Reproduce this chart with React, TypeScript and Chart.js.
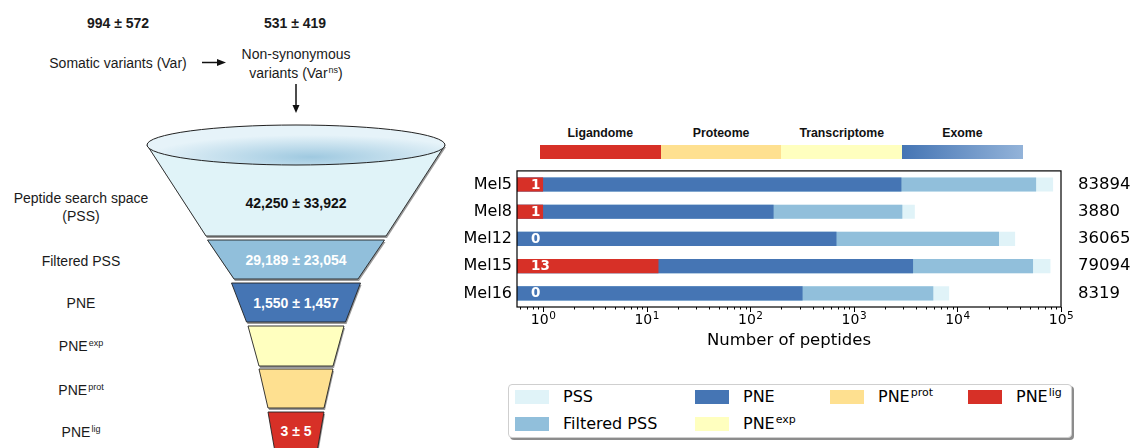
import React, { useEffect, useRef } from 'react';
import { Chart, registerables } from 'chart.js';

Chart.register(...registerables);

// ---------------- data ----------------
const samples = ['Mel5', 'Mel8', 'Mel12', 'Mel15', 'Mel16'];
const pssCounts = [83894, 3880, 36065, 79094, 8319];
const filteredPssCounts = [57500, 2940, 25200, 53700, 5850];
const pneCounts = [2880, 168, 680, 3730, 320];
const ligCounts = [1, 1, 0, 13, 0];
const totalLabels = pssCounts.map(String);
const xMin = 0.56;
const xMax = 100000;
const xTickPowers = [0, 1, 2, 3, 4, 5];

const layerNames = ['Ligandome', 'Proteome', 'Transcriptome', 'Exome'];
const layerFills = ['#d73027', '#fee090', '#ffffbf', 'linear-gradient(90deg, #4575b4, #93b3d9)'];

const colPSS = '#e0f3f8';
const colFiltered = '#91bfdb';
const colPNE = '#4575b4';
const colExp = '#ffffbf';
const colProt = '#fee090';
const colLig = '#d73027';

const legendNames = ['PSS', 'Filtered PSS', 'PNE', 'PNE', 'PNE', 'PNE'];
const legendSups = ['', '', '', 'exp', 'prot', 'lig'];
const legendColors = [colPSS, colFiltered, colPNE, colExp, colProt, colLig];

const variantStats = ['994 ± 572', '531 ± 419'];
const stageNames = ['Filtered PSS', 'PNE', 'PNE', 'PNE', 'PNE'];
const stageSups = ['', '', 'exp', 'prot', 'lig'];
const stageStats = ['42,250 ± 33,922', '29,189 ± 23,054', '1,550 ± 1,457', '', '', '3 ± 5'];
const stageColors = [colPSS, colFiltered, colPNE, colExp, colProt, colLig];
const stageTextColors = ['#111', '#fff', '#fff', '#fff', '#fff', '#fff'];

// funnel tier layout: [top y, bottom y, top half-width, bottom half-width]
const funnelCx = 296;
const funnelTiers = [
  [145, 236, 149, 90],
  [240, 279, 88.5, 62],
  [283, 322, 64.5, 49.5],
  [326, 366, 48, 37],
  [369, 408, 37, 28],
  [412, 452, 28, 21],
];
const stageLabelY = [261, 303, 346, 390, 432];

const FONT_LEFT = '"Liberation Sans", Arial, Helvetica, sans-serif';
const FONT_PLOT = '"DejaVu Sans", sans-serif';

const Sup = ({ t, size }: { t: string; size: number }) =>
  t ? (
    <span style={{ fontSize: size, position: 'relative', top: -size * 0.55, marginLeft: 1 }}>{t}</span>
  ) : null;

const Txt = ({ x, y, children, style }: any) => (
  <div
    style={{
      position: 'absolute',
      left: x,
      top: y,
      transform: 'translate(-50%, -50%)',
      whiteSpace: 'nowrap',
      lineHeight: 1,
      fontFamily: FONT_LEFT,
      fontSize: 14,
      color: '#1a1a1a',
      ...style,
    }}
  >
    {children}
  </div>
);

const overlayPlugin = {
  id: 'overlay',
  afterDatasetsDraw(chart: any) {
    const { ctx, chartArea: a, scales } = chart;
    const xs = scales.x;
    const ys = scales.y;
    ctx.save();
    // value labels for ligandome counts
    ctx.fillStyle = '#ffffff';
    ctx.font = 'bold 13.5px ' + FONT_PLOT;
    ctx.textAlign = 'left';
    ctx.textBaseline = 'middle';
    ligCounts.forEach((v, i) => {
      ctx.fillText(String(v), a.left + 14, ys.getPixelForValue(i) + 0.5);
    });
    // frame
    ctx.strokeStyle = '#000';
    ctx.lineWidth = 1.2;
    ctx.strokeRect(a.left, a.top, a.right - a.left, a.bottom - a.top);
    // log ticks (major + minor)
    ctx.lineWidth = 1;
    for (let d = -1; d <= 5; d++) {
      for (let m = 1; m <= 9; m++) {
        const v = m * Math.pow(10, d);
        if (v < xMin || v > xMax * 1.0001) continue;
        const px = Math.round(xs.getPixelForValue(v)) + 0.5;
        const len = m === 1 ? 5 : 2.5;
        ctx.beginPath();
        ctx.moveTo(px, a.bottom);
        ctx.lineTo(px, a.bottom + len);
        ctx.stroke();
      }
    }
    // tick labels 10^p with true superscripts
    ctx.fillStyle = '#000';
    ctx.textBaseline = 'alphabetic';
    ctx.textAlign = 'left';
    xTickPowers.forEach((p) => {
      const px = xs.getPixelForValue(Math.pow(10, p));
      ctx.font = '14px ' + FONT_PLOT;
      const base = '10';
      const wb = ctx.measureText(base).width;
      ctx.font = '10.5px ' + FONT_PLOT;
      const ex = String(p);
      const we = ctx.measureText(ex).width;
      const x0 = px - (wb + we) / 2;
      ctx.font = '14px ' + FONT_PLOT;
      ctx.fillText(base, x0, a.bottom + 16.5);
      ctx.font = '10.5px ' + FONT_PLOT;
      ctx.fillText(ex, x0 + wb + 0.5, a.bottom + 12.3);
    });
    ctx.restore();
  },
};

function BarChart() {
  const ref = useRef<HTMLCanvasElement | null>(null);
  useEffect(() => {
    if (!ref.current) return;
    const chart = new Chart(ref.current, {
      type: 'bar',
      data: {
        labels: samples,
        datasets: [
          { label: 'PNE lig', data: ligCounts, backgroundColor: colLig, order: 1 },
          { label: 'PNE', data: pneCounts, backgroundColor: colPNE, order: 2 },
          { label: 'Filtered PSS', data: filteredPssCounts, backgroundColor: colFiltered, order: 3 },
          { label: 'PSS', data: pssCounts, backgroundColor: colPSS, order: 4 },
        ] as any,
      },
      options: {
        indexAxis: 'y',
        animation: false,
        responsive: true,
        maintainAspectRatio: false,
        layout: { padding: 0 },
        datasets: {
          bar: { grouped: false, barPercentage: 0.52, categoryPercentage: 1, borderWidth: 0 },
        } as any,
        plugins: { legend: { display: false }, tooltip: { enabled: false } },
        scales: {
          x: {
            type: 'logarithmic',
            position: 'bottom',
            min: xMin,
            max: xMax,
            grid: { display: false, drawTicks: false },
            border: { display: false },
            ticks: {
              autoSkip: false,
              maxRotation: 0,
              padding: 4,
              color: '#000',
              font: { family: FONT_PLOT, size: 14 },
              callback: () => '',
            },
            title: {
              display: true,
              text: 'Number of peptides',
              color: '#000',
              font: { family: FONT_PLOT, size: 16.5 },
              padding: { top: 2, bottom: 4 },
            },
            afterFit: (s: any) => {
              s.height = 48;
            },
          } as any,
          y: {
            type: 'category',
            position: 'left',
            offset: true,
            grid: { display: false, drawTicks: false },
            border: { display: false },
            ticks: { color: '#000', padding: 5, font: { family: FONT_PLOT, size: 16 } },
            afterFit: (s: any) => {
              s.width = 77;
            },
          } as any,
          y2: {
            type: 'category',
            position: 'right',
            labels: totalLabels,
            offset: true,
            grid: { display: false, drawTicks: false },
            border: { display: false },
            ticks: { color: '#000', padding: 17, font: { family: FONT_PLOT, size: 16.5 } },
            afterFit: (s: any) => {
              s.width = 70;
            },
          } as any,
        },
      } as any,
      plugins: [overlayPlugin],
    });
    return () => chart.destroy();
  }, []);
  return (
    <div style={{ position: 'absolute', left: 440, top: 144, width: 691, height: 211 }}>
      <canvas ref={ref} />
    </div>
  );
}

function Funnel() {
  const poly = (t: number[]) => {
    const [y0, y1, w0, w1] = t;
    return `${funnelCx - w0},${y0} ${funnelCx + w0},${y0} ${funnelCx + w1},${y1} ${funnelCx - w1},${y1}`;
  };
  const shadow = (t: number[]) => {
    const [y0, y1, w0, w1] = t;
    return `${funnelCx - w0 + 1},${y0 + 2} ${funnelCx + w0 + 1},${y0 + 2} ${funnelCx + w1 + 1},${y1 + 2} ${funnelCx - w1 + 1},${y1 + 2}`;
  };
  return (
    <svg width={460} height={448} style={{ position: 'absolute', left: 0, top: 0 }}>
      <defs>
        <radialGradient id="ellG" cx="0.55" cy="0.8" r="0.55">
          <stop offset="0" stopColor="#9fc9e0" />
          <stop offset="1" stopColor="#e6f3f9" />
        </radialGradient>
      </defs>
      {funnelTiers.map((t, i) => (
        <g key={i}>
          <polygon points={shadow(t)} fill="#9a9a9a" />
          <polygon points={poly(t)} fill={stageColors[i]} stroke="#222" strokeWidth={0.9} />
        </g>
      ))}
      <ellipse cx={funnelCx} cy={145} rx={149} ry={20} fill="url(#ellG)" stroke="#222" strokeWidth={1} />
      {/* arrows */}
      <line x1={202} y1={62.5} x2={219} y2={62.5} stroke="#111" strokeWidth={1.5} />
      <polygon points="217,59 226,62.5 217,66" fill="#111" />
      <line x1={296} y1={84} x2={296} y2={106} stroke="#111" strokeWidth={1.5} />
      <polygon points="292.5,105 296,113 299.5,105" fill="#111" />
    </svg>
  );
}

export default function App() {
  return (
    <div
      style={{
        position: 'absolute',
        left: 0,
        top: 0,
        width: 1131,
        height: 448,
        background: '#fff',
        overflow: 'hidden',
      }}
    >
      <Funnel />
      {/* top variant counts */}
      <Txt x={118} y={22.5} style={{ fontWeight: 'bold' }}>{variantStats[0]}</Txt>
      <Txt x={295} y={22.5} style={{ fontWeight: 'bold' }}>{variantStats[1]}</Txt>
      <Txt x={118} y={62.5}>Somatic variants (Var)</Txt>
      <Txt x={296} y={54}>Non-synonymous</Txt>
      <Txt x={296} y={73}>
        variants (Var<Sup t="ns" size={9} />)
      </Txt>
      {/* funnel labels */}
      <Txt x={81} y={197.5}>Peptide search space</Txt>
      <Txt x={81} y={215.5}>(PSS)</Txt>
      {stageNames.map((n, i) => (
        <Txt key={i} x={81} y={stageLabelY[i]}>
          {n}
          <Sup t={stageSups[i]} size={9} />
        </Txt>
      ))}
      {stageStats.map((s, i) =>
        s ? (
          <Txt
            key={'s' + i}
            x={funnelCx}
            y={i === 0 ? 203 : i === 5 ? 431 : (funnelTiers[i][0] + funnelTiers[i][1]) / 2}
            style={{ fontWeight: 'bold', color: stageTextColors[i] }}
          >
            {s}
          </Txt>
        ) : null
      )}
      {/* layer color bar */}
      {layerNames.map((n, i) => (
        <React.Fragment key={n}>
          <div
            style={{
              position: 'absolute',
              left: 540 + i * 120.7,
              top: 145,
              width: 120.7,
              height: 13.5,
              background: layerFills[i],
            }}
          />
          <Txt
            x={540 + i * 120.7 + 60.35}
            y={133}
            style={{ fontWeight: 'bold', fontSize: 12.3, color: '#111' }}
          >
            {n}
          </Txt>
        </React.Fragment>
      ))}
      <BarChart />
      {/* legend */}
      <div
        style={{
          position: 'absolute',
          left: 508,
          top: 384,
          width: 562,
          height: 52,
          border: '1px solid #cfcfcf',
          borderRadius: 4,
          background: '#fff',
          boxShadow: '2px 2px 0 rgba(0,0,0,0.45)',
        }}
      />
      {legendNames.map((n, i) => {
        const colX = [515, 515, 695, 695, 830, 968][i];
        const rowY = [397, 424, 397, 424, 397, 397][i];
        return (
          <React.Fragment key={'l' + i}>
            <div
              style={{
                position: 'absolute',
                left: colX,
                top: rowY - 7,
                width: 34,
                height: 14,
                background: legendColors[i],
              }}
            />
            <div
              style={{
                position: 'absolute',
                left: colX + 48,
                top: rowY,
                transform: 'translateY(-50%)',
                whiteSpace: 'nowrap',
                lineHeight: 1,
                fontFamily: FONT_PLOT,
                fontSize: 16,
                color: '#000',
              }}
            >
              {n}
              <Sup t={legendSups[i]} size={11} />
            </div>
          </React.Fragment>
        );
      })}
    </div>
  );
}
